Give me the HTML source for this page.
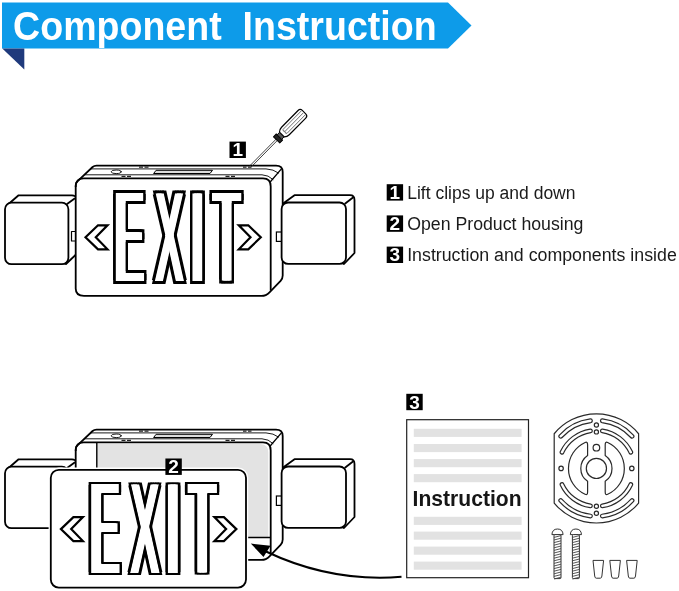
<!DOCTYPE html>
<html lang="en"><head><meta charset="utf-8"><title>Component Instruction</title>
<style>html,body{margin:0;padding:0;background:#fff;overflow:hidden}svg{display:block;will-change:transform}</style></head>
<body>
<svg width="679" height="591" viewBox="0 0 679 591">
<defs><text id="ex" transform="scale(0.3149,1)" font-family="'Liberation Sans', sans-serif" font-size="130.8" x="2.22 130.21 244.87 315.91" y="0">EXIT</text>
<clipPath id="cX"><rect x="34.0" y="-110" width="40.4" height="130"/></clipPath>
<clipPath id="cN"><path d="M-20,-110 H34.0 V20 H-20 Z M74.4,-110 H160 V20 H74.4 Z"/></clipPath>
<g id="exH"><g clip-path="url(#cN)"><use href="#ex" x="-3.10"/><use href="#ex" x="-1.55"/><use href="#ex" x="0.00"/><use href="#ex" x="1.55"/><use href="#ex" x="3.10"/></g><g clip-path="url(#cX)"><use href="#ex" x="-2.20"/><use href="#ex" x="0.00"/><use href="#ex" x="2.20"/></g></g>
<mask id="m1" maskUnits="userSpaceOnUse" x="-20" y="-110" width="180" height="130"><use href="#exH" y="-0.7" fill="#fff"/></mask>
<mask id="m2" maskUnits="userSpaceOnUse" x="-20" y="-110" width="180" height="130"><use href="#exH" y="0.7" fill="#fff"/></mask>
<g id="exit"><g fill="#000"><g clip-path="url(#cN)"><use href="#ex" x="-5.50" y="-1.7"/><use href="#ex" x="-3.67" y="-1.7"/><use href="#ex" x="-1.83" y="-1.7"/><use href="#ex" x="0.00" y="-1.7"/><use href="#ex" x="1.83" y="-1.7"/><use href="#ex" x="3.67" y="-1.7"/><use href="#ex" x="5.50" y="-1.7"/><use href="#ex" x="-5.50" y="1.7"/><use href="#ex" x="-3.67" y="1.7"/><use href="#ex" x="-1.83" y="1.7"/><use href="#ex" x="0.00" y="1.7"/><use href="#ex" x="1.83" y="1.7"/><use href="#ex" x="3.67" y="1.7"/><use href="#ex" x="5.50" y="1.7"/></g><g clip-path="url(#cX)"><use href="#ex" x="-4.60" y="-1.7"/><use href="#ex" x="-2.30" y="-1.7"/><use href="#ex" x="0.00" y="-1.7"/><use href="#ex" x="2.30" y="-1.7"/><use href="#ex" x="4.60" y="-1.7"/><use href="#ex" x="-4.60" y="1.7"/><use href="#ex" x="-2.30" y="1.7"/><use href="#ex" x="0.00" y="1.7"/><use href="#ex" x="2.30" y="1.7"/><use href="#ex" x="4.60" y="1.7"/></g></g><g mask="url(#m1)"><g mask="url(#m2)"><rect x="-20" y="-110" width="180" height="130" fill="#fff"/></g></g></g>
<path id="chev" d="M0,0 L12.5,-12 L22,-12 L10.3,0 L22,12 L12.5,12 Z" fill="#fff" stroke="#000" stroke-width="2.2" stroke-linejoin="miter"/>
<g id="lampL" fill="#fff" stroke="#000" stroke-width="1.8" stroke-linejoin="round">
<path d="M8,204.5 L18.6,195.3 H72 Q75.5,195.4 76.5,198 V254 L66,264 Z"/>
<rect x="5" y="202.7" width="63.4" height="61.5" rx="6.5" ry="6.5"/>
<path d="M66.7,204.3 L75,198.2" fill="none"/>
<rect x="71.5" y="231.5" width="4.5" height="9.5" stroke-width="1.2"/>
</g>
<g id="lampR" fill="#fff" stroke="#000" stroke-width="1.8" stroke-linejoin="round">
<path d="M283.8,203 L294.5,195.2 H350 Q354.5,195.2 354.5,200 V253 L344,264 Z"/>
<rect x="281.6" y="202.5" width="64.4" height="61.4" rx="6.5" ry="6.5"/>
<path d="M344.6,204 L353.3,197.3" fill="none"/>
</g>
<rect id="tabR" x="276.4" y="232" width="5.2" height="9.4" fill="#fff" stroke="#000" stroke-width="1.2"/>
<g id="housing" stroke="#000" stroke-linejoin="round" stroke-linecap="round">
<path d="M75.7,186 L75.7,185 Q75.9,182.2 79,179.8 L92.6,167 Q94.2,165.7 96.5,165.7 H276 Q282.7,165.7 282.7,172 V275.5 Q282.7,278.6 280.6,280.8 L269.5,292.3 Q266,295.9 261.5,295.9 H84 Q75.7,295.9 75.7,288.5 Z" fill="#fff" stroke-width="1.8"/>
<path d="M91,168.9 H266 Q273.5,169.2 278.5,173" fill="none" stroke-width="0.9"/>
<path d="M85,174.8 H262 Q268.5,175 273,179.5" fill="none" stroke-width="0.9"/>
<path d="M270.6,181.5 L281.2,169.2" fill="none" stroke-width="1.3"/>
<ellipse cx="116.2" cy="171.8" rx="5" ry="1.8" fill="#fff" stroke-width="0.9"/>
<path d="M156.5,170.3 H212.5 L210,173.5 H154 Z" fill="#ddd" stroke-width="1"/>
<path d="M139,167.1 h4 m1.5,0 h4 M243,167.1 h3.5 m1.5,0 h3.5 M121.5,176.3 h4 m1.5,0 h4 M225.5,176.3 h4 m1.5,0 h4" fill="none" stroke-width="1.3" stroke-linecap="butt" stroke="#222"/>
</g></defs>
<rect width="679" height="591" fill="#fff"/>
<path d="M2,2.5 H448 L471.5,25.5 L448,48.5 H2 Z" fill="#0d9be9"/>
<path d="M2.3,48.5 H24.3 V69.6 Z" fill="#1f3a7c"/>
<text x="13.1" y="39.5" font-family="'Liberation Sans', sans-serif" font-weight="bold" font-size="40" fill="#fff" textLength="423.5" lengthAdjust="spacingAndGlyphs" xml:space="preserve" style="white-space:pre">Component  Instruction</text>
<use href="#lampL"/>
<use href="#housing"/><use href="#tabR"/><use href="#lampR"/>
<path d="M75.7,187 Q75.7,178.4 83.5,178.4 H263 Q270.7,178.4 270.7,186.5 V290.5" fill="none" stroke="#000" stroke-width="1.8"/>
<use href="#exit" x="114.6" y="282.05"/>
<use href="#chev" x="85.5" y="237.3"/>
<use href="#chev" transform="translate(260.8,237.3) scale(-1,1)"/>
<rect x="229.5" y="141.6" width="16.4" height="16.4" fill="#000"/><text x="237.7" y="156.4" font-family="'Liberation Sans', sans-serif" font-weight="bold" font-size="19" fill="#fff" text-anchor="middle">1</text>
<g transform="translate(250.3,166.6) rotate(-45.4)" stroke="#000" fill="#fff" stroke-linejoin="round">
<path d="M0,-0.9 H39 M0,0.9 H39" stroke-width="0.8" fill="none" stroke="#222"/>
<path d="M37.5,-4.4 H41.5 V4.4 H37.5 Z" fill="#222" stroke-width="1"/>
<path d="M41.5,-3.2 H45 V3.2 H41.5 Z" fill="#555" stroke-width="0.9"/>
<path d="M45,-3.4 Q47,-5.4 50,-5.4 H73.5 Q76.5,-5.4 76.5,-2.4 V2.4 Q76.5,5.4 73.5,5.4 H50 Q47,5.4 45,3.4 Z" stroke-width="1.2"/>
<path d="M49.5,-2.8 H75.5 M49.5,0 H75.5 M49.5,2.8 H75.5 M49.5,-2.8 Q47.5,-1.4 49.5,0 Q47.5,1.4 49.5,2.8" stroke-width="0.8" fill="none" stroke="#555"/>
</g>
<rect x="386.7" y="184.2" width="16.4" height="16.4" fill="#000"/><text x="394.9" y="199.0" font-family="'Liberation Sans', sans-serif" font-weight="bold" font-size="19" fill="#fff" text-anchor="middle">1</text>
<text x="407.2" y="198.9" font-family="'Liberation Sans', sans-serif" font-size="17.6" fill="#1a1a1a" textLength="168.3" lengthAdjust="spacingAndGlyphs">Lift clips up and down</text>
<rect x="386.7" y="215.4" width="16.4" height="16.4" fill="#000"/><text x="394.9" y="230.2" font-family="'Liberation Sans', sans-serif" font-weight="bold" font-size="19" fill="#fff" text-anchor="middle">2</text>
<text x="407.2" y="230.2" font-family="'Liberation Sans', sans-serif" font-size="17.6" fill="#1a1a1a" textLength="176.3" lengthAdjust="spacingAndGlyphs">Open Product housing</text>
<rect x="386.7" y="246.6" width="16.4" height="16.4" fill="#000"/><text x="394.9" y="261.4" font-family="'Liberation Sans', sans-serif" font-weight="bold" font-size="19" fill="#fff" text-anchor="middle">3</text>
<text x="407.2" y="261.2" font-family="'Liberation Sans', sans-serif" font-size="17.6" fill="#1a1a1a" textLength="269.6" lengthAdjust="spacingAndGlyphs">Instruction and components inside</text>
<g transform="translate(0,264)"><use href="#lampL"/><use href="#housing"/><use href="#tabR"/><use href="#lampR"/>
<path d="M75.7,187 Q75.7,178.4 83.5,178.4 H263 Q270.7,178.4 270.7,186.5 V290.5" fill="none" stroke="#000" stroke-width="1.8"/>
<path d="M97.2,180 H260 Q268.3,180 268.3,188.5 V273.5 H97.2 Z" fill="#e3e3e3" stroke="none"/>
<path d="M96.8,179 V273.5 M245,273.5 H270.6" fill="none" stroke="#000" stroke-width="1.4"/>
</g>
<rect x="50.8" y="469.8" width="195.2" height="117.8" rx="8" ry="8" fill="#fff" stroke="#fff" stroke-width="4.4"/>
<rect x="50.8" y="469.8" width="195.2" height="117.8" rx="8" ry="8" fill="#fff" stroke="#000" stroke-width="1.8"/>
<use href="#exit" x="90.10" y="573.45"/>
<use href="#chev" x="60.9" y="529.1"/>
<use href="#chev" transform="translate(236.4,529.1) scale(-1,1)"/>
<rect x="165.4" y="458.5" width="16.4" height="16.4" fill="#000"/><text x="173.6" y="473.3" font-family="'Liberation Sans', sans-serif" font-weight="bold" font-size="19" fill="#fff" text-anchor="middle">2</text>
<path d="M401.5,576.8 C350,581 305,570 266,551.5" fill="none" stroke="#000" stroke-width="2"/>
<path d="M250.8,543.6 L270.5,545.8 L263.5,557 Z" fill="#000"/>
<rect x="406.3" y="393.8" width="16.4" height="16.4" fill="#000"/><text x="414.5" y="408.6" font-family="'Liberation Sans', sans-serif" font-weight="bold" font-size="19" fill="#fff" text-anchor="middle">3</text>
<rect x="406.7" y="419.7" width="121.8" height="158" fill="#fff" stroke="#222" stroke-width="1.2"/>
<rect x="413.8" y="428.8" width="107.8" height="8.1" fill="#e2e2e2"/>
<rect x="413.8" y="444.0" width="107.8" height="8.1" fill="#e2e2e2"/>
<rect x="413.8" y="459.1" width="107.8" height="8.1" fill="#e2e2e2"/>
<rect x="413.8" y="474.1" width="107.8" height="8.1" fill="#e2e2e2"/>
<rect x="413.8" y="516.8" width="107.8" height="8.1" fill="#e2e2e2"/>
<rect x="413.8" y="531.6" width="107.8" height="8.1" fill="#e2e2e2"/>
<rect x="413.8" y="546.6" width="107.8" height="8.1" fill="#e2e2e2"/>
<rect x="413.8" y="561.6" width="107.8" height="8.1" fill="#e2e2e2"/>
<text x="412.6" y="506.2" font-family="'Liberation Sans', sans-serif" font-weight="bold" font-size="21.6" fill="#161616" textLength="109" lengthAdjust="spacingAndGlyphs">Instruction</text>
<g fill="#fff" stroke="#2a2a2a" stroke-width="1.2"><path d="M554.20,433.75 A54.60,54.60 0 0 1 638.60,433.75 V503.05 A54.60,54.60 0 0 1 554.20,503.05 Z"/><path d="M590.33,418.97 A49.80,49.80 0 0 0 559.39,435.08 A1.80,1.80 0 0 0 562.07,437.49 A46.20,46.20 0 0 1 590.77,422.54 A1.80,1.80 0 0 0 590.33,418.97 ZM633.41,435.08 A49.80,49.80 0 0 0 602.47,418.97 A1.80,1.80 0 0 0 602.03,422.54 A46.20,46.20 0 0 1 630.73,437.49 A1.80,1.80 0 0 0 633.41,435.08 ZM559.39,501.72 A49.80,49.80 0 0 0 590.33,517.83 A1.80,1.80 0 0 0 590.77,514.26 A46.20,46.20 0 0 1 562.07,499.31 A1.80,1.80 0 0 0 559.39,501.72 ZM602.47,517.83 A49.80,49.80 0 0 0 633.41,501.72 A1.80,1.80 0 0 0 630.73,499.31 A46.20,46.20 0 0 1 602.03,514.26 A1.80,1.80 0 0 0 602.47,517.83 ZM590.17,429.09 A39.80,39.80 0 0 0 560.33,451.58 A1.80,1.80 0 0 0 563.59,453.10 A36.20,36.20 0 0 1 590.74,432.65 A1.80,1.80 0 0 0 590.17,429.09 ZM632.47,451.58 A39.80,39.80 0 0 0 602.63,429.09 A1.80,1.80 0 0 0 602.06,432.65 A36.20,36.20 0 0 1 629.21,453.10 A1.80,1.80 0 0 0 632.47,451.58 ZM560.33,485.22 A39.80,39.80 0 0 0 590.17,507.71 A1.80,1.80 0 0 0 590.74,504.15 A36.20,36.20 0 0 1 563.59,483.70 A1.80,1.80 0 0 0 560.33,485.22 ZM602.63,507.71 A39.80,39.80 0 0 0 632.47,485.22 A1.80,1.80 0 0 0 629.21,483.70 A36.20,36.20 0 0 1 602.06,504.15 A1.80,1.80 0 0 0 602.63,507.71 Z"/><path d="M585.10,442.49 A28.50,28.50 0 0 0 585.10,494.31 Q587.60,495.51 587.60,492.01 V481.28 A15.60,15.60 0 0 1 587.60,455.52 V444.79 Q587.60,441.29 585.10,442.49 Z M607.70,442.49 A28.50,28.50 0 0 1 607.70,494.31 Q605.20,495.51 605.20,492.01 V481.28 A15.60,15.60 0 0 0 605.20,455.52 V444.79 Q605.20,441.29 607.70,442.49 Z"/><circle cx="596.4" cy="468.4" r="10.1"/><circle cx="596.4" cy="425.0" r="2.1"/><circle cx="596.4" cy="431.9" r="2.1"/><circle cx="596.4" cy="447.7" r="3.3"/><circle cx="561.1" cy="468.4" r="2.2"/><circle cx="631.8" cy="468.4" r="2.2"/><circle cx="596.4" cy="506.3" r="2.1"/><circle cx="596.4" cy="513.3" r="2.1"/></g>
<g stroke="#333" stroke-width="1" fill="#fff"><path d="M551.9,534.6 Q552.3,529 557.5,529 Q562.7,529 563.1,534.6 Z"/><rect x="554.0" y="534.6" width="7" height="44" rx="1"/><path d="M554.0,537.4 L561.0,535.6 M554.0,540.0 L561.0,538.2 M554.0,542.6 L561.0,540.8 M554.0,545.2 L561.0,543.4 M554.0,547.8 L561.0,546.0 M554.0,550.4 L561.0,548.6 M554.0,553.0 L561.0,551.2 M554.0,555.6 L561.0,553.8 M554.0,558.2 L561.0,556.4 M554.0,560.8 L561.0,559.0 M554.0,563.4 L561.0,561.6 M554.0,566.0 L561.0,564.2 M554.0,568.6 L561.0,566.8 M554.0,571.2 L561.0,569.4 M554.0,573.8 L561.0,572.0 M554.0,576.4 L561.0,574.6 M554.0,579.0 L561.0,577.2 " fill="none" stroke="#444" stroke-width="0.9"/></g>
<g stroke="#333" stroke-width="1" fill="#fff"><path d="M570.3,534.6 Q570.7,529 575.9,529 Q581.1,529 581.5,534.6 Z"/><rect x="572.4" y="534.6" width="7" height="44" rx="1"/><path d="M572.4,537.4 L579.4,535.6 M572.4,540.0 L579.4,538.2 M572.4,542.6 L579.4,540.8 M572.4,545.2 L579.4,543.4 M572.4,547.8 L579.4,546.0 M572.4,550.4 L579.4,548.6 M572.4,553.0 L579.4,551.2 M572.4,555.6 L579.4,553.8 M572.4,558.2 L579.4,556.4 M572.4,560.8 L579.4,559.0 M572.4,563.4 L579.4,561.6 M572.4,566.0 L579.4,564.2 M572.4,568.6 L579.4,566.8 M572.4,571.2 L579.4,569.4 M572.4,573.8 L579.4,572.0 M572.4,576.4 L579.4,574.6 M572.4,579.0 L579.4,577.2 " fill="none" stroke="#444" stroke-width="0.9"/></g>
<path d="M593.0,560.4 H603.6 L601.9,576 Q601.7,578.2 600.3,578.2 H596.3 Q594.9,578.2 594.7,576 Z" fill="#fff" stroke="#333" stroke-width="1"/>
<path d="M609.8,560.4 H620.4 L618.7,576 Q618.5,578.2 617.1,578.2 H613.1 Q611.7,578.2 611.5,576 Z" fill="#fff" stroke="#333" stroke-width="1"/>
<path d="M626.6,560.4 H637.2 L635.5,576 Q635.3,578.2 633.9,578.2 H629.9 Q628.5,578.2 628.3,576 Z" fill="#fff" stroke="#333" stroke-width="1"/>
</svg>
</body></html>
